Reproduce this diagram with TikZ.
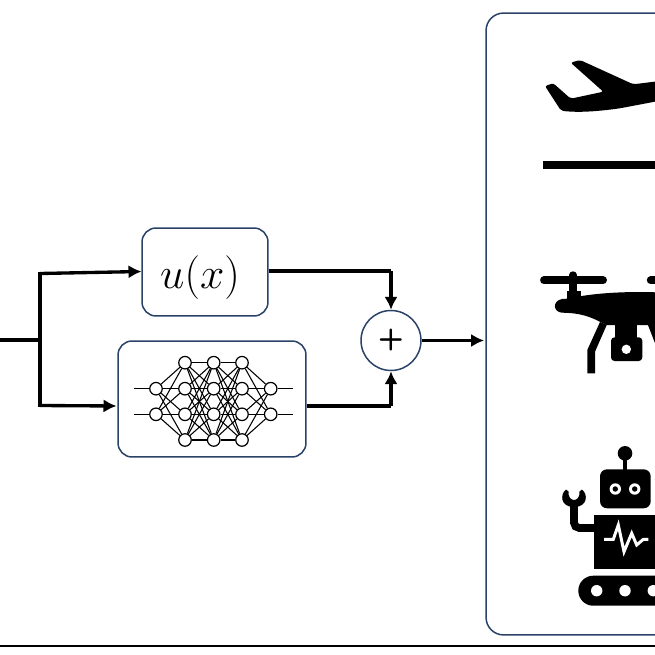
\documentclass[tikz,border=0pt]{standalone}
\usetikzlibrary{arrows.meta}
\definecolor{boxblue}{HTML}{2A4268}
\tikzset{
  blockbox/.style={draw=boxblue,line width=0.85pt,rounded corners=8pt,inner sep=0pt,fill=white},
  sumnode/.style={circle,draw=boxblue,line width=0.85pt,minimum size=1.2cm,inner sep=0pt},
  wire/.style={line width=1.9pt},
  wirearrow/.style={wire,-{Latex[length=7.4pt,width=7.6pt]}},
  neuron/.style={circle,draw,line width=0.7pt,fill=white,minimum size=0.25cm,inner sep=0pt},
  synapse/.style={line width=0.6pt}
}
\begin{document}
\begin{tikzpicture}
        [x=0.02cm,y=-0.02cm]
        \useasboundingbox (0,0) rectangle (655,655);
        \clip (0,0) rectangle (655,655);

        \node[blockbox,minimum width=6.6cm,minimum height=12.44cm,rounded corners=10pt] (plant) at (651,324) {};
        \node[blockbox,minimum width=2.52cm,minimum height=1.76cm] (known) at (205,272) {};
        \node[anchor=base,inner sep=0pt] (knownlabel) at (200,288) {\fontsize{23}{27}\selectfont $u(x)$};
        \node[blockbox,minimum width=3.76cm,minimum height=2.32cm] (net) at (212,399) {};
        \node[sumnode] (adder) at (391,340.5) {\fontsize{17}{20}\selectfont\sffamily\bfseries +};

        \coordinate (in) at (0,340);
        \coordinate (split) at (40,340);
        \coordinate (up) at (40,273.5);
        \coordinate (down) at (40,405.5);
        \coordinate (knownin) at (141.5,271.5);
        \coordinate (netin) at (116.5,406);
        \coordinate (knownout) at (391,271);
        \coordinate (netout) at (391,406);
        \coordinate (plantin) at (484,340.5);

        \draw[wire] (in) -- (split);
        \draw[wire,line cap=rect] (up) -- (down);
        \draw[wirearrow] (up) -- (knownin);
        \draw[wirearrow] (down) -- (netin);
        \draw[wire] (known.east |- knownout) -- (knownout);
        \draw[wirearrow] (knownout) -- (adder.north);
        \draw[wire] (net.east |- netout) -- (netout);
        \draw[wirearrow] (netout) -- (adder.south);
        \draw[wirearrow] (adder.east) -- (plantin);

        % network
        \foreach \i/\y in {1/388.7,2/414.3}
        {\node[neuron] (a\i) at (156,\y) {};
         \node[neuron] (e\i) at (270.7,\y) {};
         \coordinate (sl\i) at (134,\y);
         \coordinate (sr\i) at (293,\y);}
        \foreach \l/\x in {b/185,c/213.7,d/242}
        \foreach \i/\y in {1/362.7,2/388.7,3/414.3,4/440}
        {\node[neuron] (\l\i) at (\x,\y) {};}
        \foreach \i in {1,2}
        {\draw[synapse] (sl\i) -- (a\i);
         \draw[synapse] (e\i) -- (sr\i);
         \foreach \j in {1,...,4}
         {\draw[synapse] (a\i) -- (b\j);
          \draw[synapse] (d\j) -- (e\i);}}
        \foreach \i in {1,...,4}
        \foreach \j in {1,...,4}
        {\draw[synapse] (b\i) -- (c\j);
         \draw[synapse] (c\i) -- (d\j);}

        % plane
        \fill[rounded corners=1.2pt] (570.7,62.7) -- (580,60) -- (633.3,84.3) -- (660,81)
          -- (660,100.7) -- (620,108.3) .. controls (600,111) and (580,113) .. (561,110.7)
          -- (545,86) -- (553.3,83.3) -- (570.7,98.7) -- (603.3,91.7) -- cycle;
        \fill (543,161.5) rectangle (660,169.5);

        % drone
        \draw[line width=4.5pt,line cap=round] (544,280.3) -- (603,280.3);
        \draw[line width=4.5pt,line cap=round] (650.7,280.3) -- (670,280.3);
        \draw[line width=4.2pt,line cap=round] (573,275) -- (573,295);
        \fill (566.7,290.5) rectangle (580.7,300);
        \fill (660,292.5) .. controls (630,291) and (590,293) .. (570,298.5)
          -- (562,299) .. controls (552,301) and (553,312) .. (562,312.7)
          .. controls (580,313) and (590,316) .. (606,325) -- (660,325) -- cycle;
        \fill (600,322) -- (606.7,325) -- (595,351.7) -- (595,373.3) -- (587.3,373.3) -- (587.3,350) -- cycle;
        \fill (615,320) rectangle (637,340);
        \fill[rounded corners=2pt] (611,337.3) rectangle (642.3,361);
        \fill[white] (626.3,349.3) circle (4.7);
        \fill (646,320) -- (658,320) -- (660,356) -- cycle;

        % robot
        \fill (625,453.3) circle (7.3);
        \draw[line width=2.8pt] (625,455) -- (625,472);
        \fill[rounded corners=4pt] (600,469.3) rectangle (650.7,508.3);
        \foreach \x in {615.3,634.7}
        {\fill[white] (\x,489) circle (5.7);
         \fill (\x,489) circle (2.7);}
        \fill (594,515) rectangle (660,569.3);
        \draw[line width=4.4pt,rounded corners=3pt] (596,528) -- (574,528) -- (574,503);
        \fill (566,489.5) .. controls (560,494) and (560,507) .. (574,507)
          .. controls (588,507) and (588,494) .. (582,489.5)
          -- (579.5,491.5) .. controls (580,497) and (577,500) .. (574,500)
          .. controls (571,500) and (568,497) .. (568.5,491.5) -- cycle;
        \fill[rounded corners=8.5pt] (578.3,575.7) rectangle (700,605.7);
        \foreach \x in {596.7,625,653.3}
        {\fill[white] (\x,590.7) circle (5.7);}
        \draw[white,line width=1.7pt,line join=miter] (604,539.3) -- (613.3,539.3) -- (618.3,525)
          -- (624,551.7) -- (631.7,533.3) -- (636.7,545) -- (643.3,539.3) -- (648.3,539.3);

        \coordinate (rulea) at (0,646);
        \coordinate (ruleb) at (655,646);
        \draw[line width=1.5pt] (rulea) -- (ruleb);
      \end{tikzpicture}
\end{document}
